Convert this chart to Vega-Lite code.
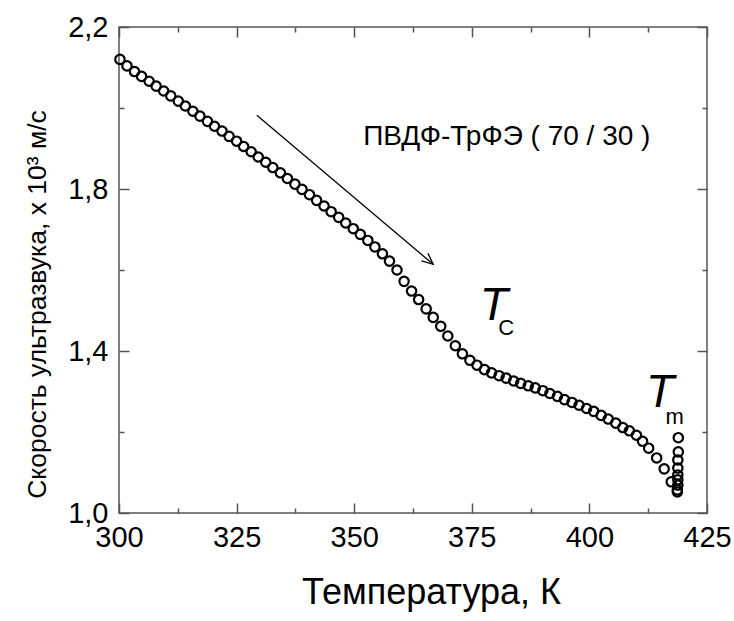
{
  "$schema": "https://vega.github.io/schema/vega-lite/v6.json",
  "autosize": {"type": "none"},
  "width": 588,
  "height": 486,
  "padding": {"left": 119, "top": 27, "right": 27, "bottom": 108},
  "background": "white",
  "config": {
    "view": {"stroke": "#555", "strokeWidth": 1.5},
    "font": "Liberation Sans",
    "axis": {"grid": false, "domain": false, "labelFlush": false, "labelOverlap": false, "tickColor": "#555", "tickWidth": 1.5}
  },
  "datasets": {
    "pts": [
      {"T": 300.2, "v": 2.120}, {"T": 301.7, "v": 2.104}, {"T": 303.3, "v": 2.090}, {"T": 304.8, "v": 2.078},
      {"T": 306.4, "v": 2.066}, {"T": 307.9, "v": 2.054}, {"T": 309.5, "v": 2.042}, {"T": 311.0, "v": 2.030},
      {"T": 312.6, "v": 2.017}, {"T": 314.1, "v": 2.005}, {"T": 315.7, "v": 1.992}, {"T": 317.2, "v": 1.980},
      {"T": 318.8, "v": 1.967}, {"T": 320.3, "v": 1.955}, {"T": 321.9, "v": 1.943}, {"T": 323.4, "v": 1.930},
      {"T": 325.0, "v": 1.918}, {"T": 326.5, "v": 1.905}, {"T": 328.1, "v": 1.892}, {"T": 329.6, "v": 1.879},
      {"T": 331.2, "v": 1.866}, {"T": 332.7, "v": 1.853}, {"T": 334.3, "v": 1.840}, {"T": 335.8, "v": 1.826},
      {"T": 337.4, "v": 1.812}, {"T": 338.9, "v": 1.799}, {"T": 340.5, "v": 1.786}, {"T": 342.0, "v": 1.772},
      {"T": 343.6, "v": 1.758}, {"T": 345.1, "v": 1.744}, {"T": 346.7, "v": 1.730}, {"T": 348.2, "v": 1.716},
      {"T": 349.8, "v": 1.702}, {"T": 351.3, "v": 1.688}, {"T": 352.9, "v": 1.673}, {"T": 354.4, "v": 1.657},
      {"T": 356.0, "v": 1.640}, {"T": 357.5, "v": 1.622}, {"T": 359.1, "v": 1.600}, {"T": 360.6, "v": 1.572},
      {"T": 362.2, "v": 1.548}, {"T": 363.7, "v": 1.527}, {"T": 365.3, "v": 1.504}, {"T": 366.8, "v": 1.483},
      {"T": 368.4, "v": 1.461}, {"T": 369.9, "v": 1.437}, {"T": 371.5, "v": 1.413}, {"T": 373.0, "v": 1.393},
      {"T": 374.6, "v": 1.377}, {"T": 376.1, "v": 1.365}, {"T": 377.7, "v": 1.354}, {"T": 379.2, "v": 1.346},
      {"T": 380.8, "v": 1.339}, {"T": 382.3, "v": 1.333}, {"T": 383.9, "v": 1.326}, {"T": 385.4, "v": 1.320},
      {"T": 387.0, "v": 1.314}, {"T": 388.5, "v": 1.309}, {"T": 390.1, "v": 1.302}, {"T": 391.6, "v": 1.295},
      {"T": 393.2, "v": 1.288}, {"T": 394.7, "v": 1.280}, {"T": 396.3, "v": 1.273}, {"T": 397.8, "v": 1.266},
      {"T": 399.4, "v": 1.258}, {"T": 400.9, "v": 1.251}, {"T": 402.5, "v": 1.241}, {"T": 404.0, "v": 1.232},
      {"T": 405.6, "v": 1.222}, {"T": 407.1, "v": 1.211}, {"T": 408.5, "v": 1.203}, {"T": 410.0, "v": 1.192},
      {"T": 411.3, "v": 1.177}, {"T": 412.6, "v": 1.160}, {"T": 414.3, "v": 1.136}, {"T": 415.9, "v": 1.109},
      {"T": 417.4, "v": 1.077},
      {"T": 418.7, "v": 1.052}, {"T": 418.7, "v": 1.057}, {"T": 418.8, "v": 1.069}, {"T": 418.8, "v": 1.082},
      {"T": 418.8, "v": 1.094}, {"T": 418.8, "v": 1.111}, {"T": 418.8, "v": 1.131}, {"T": 418.9, "v": 1.151},
      {"T": 418.9, "v": 1.186}
    ]
  },
  "resolve": {"axis": {"x": "independent", "y": "independent"}},
  "layer": [
    {
      "data": {"name": "pts"},
      "mark": {"type": "point", "shape": "circle", "filled": false, "stroke": "black", "strokeWidth": 2.2, "size": 88, "opacity": 1},
      "encoding": {
        "x": {"field": "T", "type": "quantitative", "scale": {"domain": [300, 425], "nice": false, "zero": false},
          "axis": {"orient": "bottom", "values": [300, 325, 350, 375, 400, 425], "ticks": false, "tickSize": 0, "labelPadding": 10,
            "labelFontSize": 29, "labelColor": "black", "labelFont": "Liberation Sans",
            "title": "Температура, К", "titleFontSize": 36, "titleFontWeight": "normal", "titleColor": "black", "titleFont": "Liberation Sans",
            "titleX": 312, "titleY": 79, "titleBaseline": "middle", "titleAlign": "center"}},
        "y": {"field": "v", "type": "quantitative", "scale": {"domain": [1.0, 2.2], "nice": false, "zero": false},
          "axis": {"orient": "left", "values": [1.0, 1.4, 1.8, 2.2], "ticks": false, "tickSize": 0, "labelPadding": 11,
            "labelExpr": "replace(format(datum.value, '.1f'), '.', ',')",
            "labelFontSize": 29, "labelColor": "black", "labelFont": "Liberation Sans",
            "title": "Скорость ультразвука, х 10³ м/с", "titleFontSize": 26.5, "titleFontWeight": "normal", "titleColor": "black", "titleFont": "Liberation Sans",
            "titleX": -82, "titleY": 277, "titleBaseline": "middle", "titleAlign": "center", "titleAngle": -90}}
      }
    },
    {
      "data": {"values": [{"T": 329.3, "v": 1.982, "T2": 366.8, "v2": 1.614}]},
      "mark": {"type": "rule", "color": "black", "strokeWidth": 1.3},
      "encoding": {
        "x": {"field": "T", "type": "quantitative", "axis": {"orient": "bottom", "values": [300, 325, 350, 375, 400, 425], "labels": false, "tickSize": -10, "title": null}},
        "y": {"field": "v", "type": "quantitative", "axis": {"orient": "left", "values": [1.0, 1.4, 1.8, 2.2], "labels": false, "tickSize": -10, "title": null}},
        "x2": {"field": "T2"},
        "y2": {"field": "v2"}
      }
    },
    {
      "data": {"values": [{"T": 366.8, "v": 1.614}]},
      "mark": {"type": "point", "shape": "M-1,-0.45L0,0L-1,0.45", "filled": false, "stroke": "black", "strokeWidth": 1.3, "size": 500, "angle": 40, "opacity": 1},
      "encoding": {
        "x": {"field": "T", "type": "quantitative", "axis": {"orient": "bottom", "values": [312.5, 337.5, 362.5, 387.5, 412.5], "labels": false, "tickSize": -5, "title": null}},
        "y": {"field": "v", "type": "quantitative", "axis": {"orient": "left", "values": [1.2, 1.6, 2.0], "labels": false, "tickSize": -5, "title": null}}
      }
    },
    {
      "data": {"values": [{"T": 351.9, "v": 1.928, "label": "ПВДФ-ТрФЭ ( 70 / 30 )"}]},
      "mark": {"type": "text", "align": "left", "baseline": "middle", "fontSize": 28, "font": "Liberation Sans", "color": "black"},
      "encoding": {
        "x": {"field": "T", "type": "quantitative", "axis": {"orient": "top", "values": [300, 325, 350, 375, 400, 425], "labels": false, "tickSize": -10, "title": null}},
        "y": {"field": "v", "type": "quantitative", "axis": {"orient": "right", "values": [1.0, 1.4, 1.8, 2.2], "labels": false, "tickSize": -10, "title": null}},
        "text": {"field": "label"}
      }
    },
    {
      "data": {"values": [{"T": 379.7, "v": 1.512, "label": "T"}, {"T": 415.0, "v": 1.297, "label": "T"}]},
      "mark": {"type": "text", "align": "center", "baseline": "middle", "fontSize": 46, "fontStyle": "italic", "font": "Liberation Sans", "color": "black"},
      "encoding": {
        "x": {"field": "T", "type": "quantitative", "axis": {"orient": "top", "values": [312.5, 337.5, 362.5, 387.5, 412.5], "labels": false, "tickSize": -5, "title": null}},
        "y": {"field": "v", "type": "quantitative", "axis": {"orient": "right", "values": [1.2, 1.6, 2.0], "labels": false, "tickSize": -5, "title": null}},
        "text": {"field": "label"}
      }
    },
    {
      "data": {"values": [{"T": 382.3, "v": 1.456, "label": "C"}, {"T": 418.1, "v": 1.236, "label": "m"}]},
      "mark": {"type": "text", "align": "center", "baseline": "middle", "fontSize": 22, "font": "Liberation Sans", "color": "black"},
      "encoding": {
        "x": {"field": "T", "type": "quantitative", "axis": null},
        "y": {"field": "v", "type": "quantitative", "axis": null},
        "text": {"field": "label"}
      }
    }
  ]
}
